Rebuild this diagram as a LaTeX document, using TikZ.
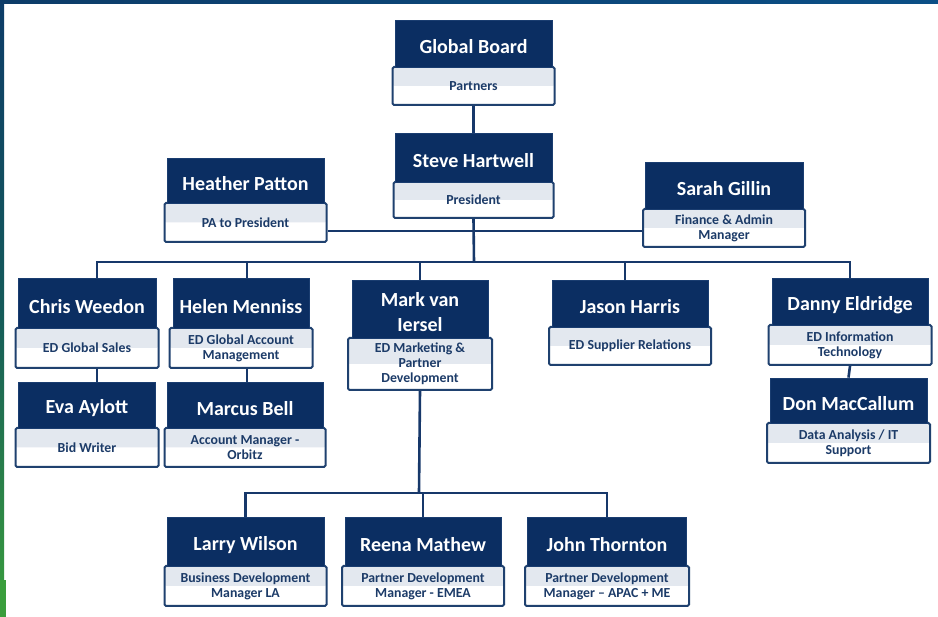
\documentclass[tikz,border=0pt]{standalone}
\usepackage{fontspec}
\setmainfont{Carlito}
\definecolor{navy}{HTML}{0B2E62}
\definecolor{navyedge}{HTML}{1A3D70}
\definecolor{subedge}{HTML}{1F416F}
\definecolor{subtext}{HTML}{1C3B68}
\definecolor{gloss}{HTML}{E3E8EF}
\definecolor{linkc}{HTML}{17386A}
\definecolor{bandblue}{HTML}{0D3C68}
\definecolor{bandblue2}{HTML}{0B4F86}
\definecolor{edgeteal}{HTML}{145A5A}
\definecolor{edgegreen}{HTML}{3A9E3C}
\newcommand{\orgperson}[9]{%
  \pgfmathsetmacro\onh{#4-#3}\pgfmathsetmacro\osh{#5-#4}%
  \pgfmathsetmacro\ony{(#3+#4)/2}\pgfmathsetmacro\osy{(#4+#5)/2}%
  \pgfmathsetmacro\oty{(#3+#4)/2+3.5}%
  \node[subbox, minimum width=#7pt, minimum height=\osh pt] (#1s) at (#2,\osy) {#9};
  \node[namebox, minimum width=#6pt, minimum height=\onh pt] (#1) at (#2,\ony) {};
  \node[nametext] (#1t) at (#2,\oty) {#8};
}
\begin{document}
\begin{tikzpicture}[x=1pt,y=-1pt,
  namebox/.style={rectangle, fill=navy, draw=navyedge, line width=0.8pt, inner sep=0pt},
  nametext/.style={text=white, font=\fontsize{20}{25}\selectfont\bfseries, align=center, inner sep=0pt},
  subbox/.style={rectangle, rounded corners=1.5pt, draw=subedge, line width=2pt, fill=white,
    text=subtext, font=\fontsize{13.8}{15}\selectfont\bfseries, align=center, inner sep=0pt,
    path picture={\fill[gloss] (path picture bounding box.north west) rectangle (path picture bounding box.east);}},
  link/.style={draw=linkc, line width=2.6pt}]
\useasboundingbox (0,0) rectangle (938,617);
% background frame
\fill[white] (0,0) rectangle (938,617);
\shade[left color=bandblue, right color=bandblue2] (0,0) rectangle (938,4);
\shade[top color=bandblue, bottom color=edgegreen, middle color=edgeteal] (0,0) rectangle (4,617);
\fill[edgegreen] (0,580) rectangle (6,617);
% people
\orgperson{gb}{473.5}{20}{67}{105}{157}{162}{Global Board}{Partners}
\orgperson{st}{473.5}{133}{182}{218}{157}{160}{Steve Hartwell}{President}
\orgperson{hp}{245.5}{158}{203}{242}{157}{162}{Heather Patton}{PA to President}
\orgperson{sg}{724}{162}{209}{247}{158}{162}{Sarah Gillin}{Finance \& Admin\\Manager}
\orgperson{cw}{87}{278}{328}{368}{138}{143}{Chris Weedon}{ED Global Sales}
\orgperson{hm}{241}{278}{328}{368}{136}{143}{Helen Menniss}{ED Global Account\\Management}
\orgperson{mk}{420}{280}{338}{390}{136}{144}{Mark van\\Iersel}{ED Marketing \&\\Partner\\Development}
\orgperson{jh}{630}{280}{327}{365}{156}{162}{Jason Harris}{ED Supplier Relations}
\orgperson{de}{850}{278}{325}{365}{156}{163}{Danny Eldridge}{ED Information\\Technology}
\orgperson{ea}{87}{382}{428}{467}{137}{143}{Eva Aylott}{Bid Writer}
\orgperson{mb}{245}{382}{428}{467}{156}{161}{Marcus Bell}{Account Manager -\\Orbitz}
\orgperson{dm}{848.5}{378}{423}{463}{157}{163}{Don MacCallum}{Data Analysis / IT\\Support}
\orgperson{lw}{245.5}{517}{566}{606}{157}{162}{Larry Wilson}{Business Development\\Manager LA}
\orgperson{rm}{423}{517}{566}{606}{156}{162}{Reena Mathew}{Partner Development\\Manager - EMEA}
\orgperson{jt}{607}{517}{566}{606}{159}{164}{John Thornton}{Partner Development\\Manager -- APAC + ME}
% connectors
\coordinate (bar) at (474,262);
\coordinate (hline) at (474,231);
\coordinate (bbar) at (419,493);
\coordinate (cwdrop) at ([xshift=10pt]cw.north);
\coordinate (hmdrop) at ([xshift=6pt]hm.north);
\coordinate (jhdrop) at ([xshift=-5pt]jh.north);
\draw[link] (gbs.south) -- (st.north);
\draw[link] (sts.south) -- (bar);
\draw[link] (hline -| hps.east) -- (hline -| sgs.west);
\draw[link] (cwdrop) |- (bar) -| (de.north);
\draw[link] (hmdrop) -- (hmdrop |- bar);
\draw[link] (mk.north) -- (mk.north |- bar);
\draw[link] (jhdrop) -- (jhdrop |- bar);
\draw[link] (cwdrop |- cws.south) -- (cwdrop |- ea.north);
\draw[link] (hmdrop |- hms.south) -- (hmdrop |- mb.north);
\draw[link] (des.south) -- (dm.north);
\draw[link] (mks.south) -- (bbar);
\draw[link] (lw.north) |- (bbar) -| (jt.north);
\draw[link] (rm.north) -- (rm.north |- bbar);
\end{tikzpicture}
\end{document}
